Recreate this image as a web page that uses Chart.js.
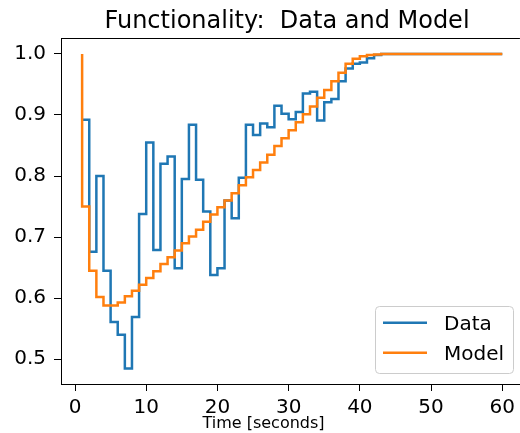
<!DOCTYPE html>
<html>
<head>
<meta charset="utf-8">
<script src="https://cdn.jsdelivr.net/npm/chart.js@4.4.1/dist/chart.umd.min.js"></script>
<style>
  html, body { margin: 0; padding: 0; background: #fff; }
  #wrap { width: 520px; height: 433px; }
</style>
</head>
<body>
<div id="wrap"><canvas id="funcChart" width="520" height="433"></canvas></div>
<script>
'use strict';

//データ
var time = [1, 2, 3, 4, 5, 6, 7, 8, 9, 10, 11, 12, 13, 14, 15, 16, 17, 18, 19, 20,
  21, 22, 23, 24, 25, 26, 27, 28, 29, 30, 31, 32, 33, 34, 35, 36, 37, 38, 39, 40,
  41, 42, 43, 44, 45, 46, 47, 48, 49, 50, 51, 52, 53, 54, 55, 56, 57, 58, 59, 60];
var dataValues = [0.892, 0.892, 0.676, 0.800, 0.645, 0.561, 0.540, 0.485, 0.569, 0.738,
  0.855, 0.679, 0.820, 0.832, 0.649, 0.795, 0.884, 0.794, 0.742, 0.638,
  0.649, 0.760, 0.731, 0.797, 0.884, 0.867, 0.886, 0.880, 0.915, 0.902,
  0.893, 0.905, 0.935, 0.938, 0.891, 0.921, 0.926, 0.955, 0.976, 0.984,
  0.986, 0.993, 0.998, 1.000, 1.000, 1.000, 1.000, 1.000, 1.000, 1.000,
  1.000, 1.000, 1.000, 1.000, 1.000, 1.000, 1.000, 1.000, 1.000, 1.000];
var modelValues = [1.000, 0.750, 0.645, 0.602, 0.588, 0.588, 0.593, 0.603, 0.612, 0.622,
  0.633, 0.644, 0.656, 0.667, 0.678, 0.690, 0.701, 0.712, 0.725, 0.737,
  0.749, 0.760, 0.772, 0.785, 0.798, 0.810, 0.822, 0.835, 0.849, 0.862,
  0.875, 0.888, 0.901, 0.914, 0.928, 0.941, 0.955, 0.969, 0.984, 0.992,
  0.996, 0.998, 0.999, 1.000, 1.000, 1.000, 1.000, 1.000, 1.000, 1.000,
  1.000, 1.000, 1.000, 1.000, 1.000, 1.000, 1.000, 1.000, 1.000, 1.000];
var xTicks = [0, 10, 20, 30, 40, 50, 60];
var yTicks = [0.5, 0.6, 0.7, 0.8, 0.9, 1.0];
var seriesLabels = ['Data', 'Model'];
var titleText = 'Functionality:  Data and Model';
var xLabelText = 'Time [seconds]';

var FONT = '"DejaVu Sans", sans-serif';

function toPoints(values) {
  return values.map(function(v, i) {
    return { x: time[i], y: v };
  });
}

//タイトル・軸ラベル・凡例・上の枠線
var decoPlugin = {
  id: 'deco',
  afterDraw: function(chart) {
    var ctx = chart.ctx;
    var area = chart.chartArea;
    ctx.save();
    ctx.strokeStyle = '#000';
    ctx.lineWidth = 1;
    ctx.beginPath();
    ctx.moveTo(area.left, Math.round(area.top) + 0.5);
    ctx.lineTo(area.right, Math.round(area.top) + 0.5);
    ctx.stroke();

    ctx.fillStyle = '#000';
    ctx.textAlign = 'center';
    ctx.textBaseline = 'alphabetic';
    ctx.font = '24px ' + FONT;
    ctx.fillText(titleText, 287, 28);
    ctx.font = '16px ' + FONT;
    ctx.fillText(xLabelText, 263.5, 428);

    //凡例
    ctx.beginPath();
    ctx.roundRect(375.5, 306.5, 138, 67, 4);
    ctx.fillStyle = 'rgba(255,255,255,0.8)';
    ctx.fill();
    ctx.strokeStyle = '#cccccc';
    ctx.stroke();
    var rows = [322.7, 352.7];
    chart.data.datasets.forEach(function(ds, i) {
      ctx.strokeStyle = ds.borderColor;
      ctx.lineWidth = 2.5;
      ctx.beginPath();
      ctx.moveTo(383, rows[i]);
      ctx.lineTo(427, rows[i]);
      ctx.stroke();
      ctx.fillStyle = '#000';
      ctx.textAlign = 'left';
      ctx.font = '20px ' + FONT;
      ctx.fillText(ds.label, 444, rows[i] + 7);
    });
    ctx.restore();
  }
};

var ctx = document.getElementById('funcChart');
var myChart = new Chart(ctx, {
  type: 'line',
  data: {
    datasets: [{
      label: seriesLabels[0],
      data: toPoints(dataValues),
      borderColor: '#1f77b4',
      borderWidth: 2.5,
      stepped: 'after',
      order: 2
    }, {
      label: seriesLabels[1],
      data: toPoints(modelValues),
      borderColor: '#ff7f0e',
      borderWidth: 2.5,
      stepped: 'after',
      order: 1
    }]
  },
  options: {
    responsive: false,
    devicePixelRatio: 1,
    animation: false,
    layout: { padding: { top: 38, right: 0, bottom: 0, left: 0 } },
    elements: { point: { radius: 0 } },
    plugins: {
      legend: { display: false },
      title: { display: false },
      tooltip: { enabled: false }
    },
    scales: {
      x: {
        type: 'linear',
        min: -1.966,
        max: 62.48,
        afterFit: function(scale) { scale.height = 49; },
        afterBuildTicks: function(scale) {
          scale.ticks = xTicks.map(function(v) { return { value: v }; });
        },
        grid: { drawOnChartArea: false, tickLength: 7, color: '#000' },
        border: { display: true, color: '#000', width: 1 },
        ticks: {
          autoSkip: false,
          maxRotation: 0,
          padding: 5,
          color: '#000',
          font: { family: FONT, size: 20 }
        }
      },
      y: {
        min: 0.4595,
        max: 1.026,
        afterFit: function(scale) { scale.width = 61; },
        afterBuildTicks: function(scale) {
          scale.ticks = yTicks.map(function(v) { return { value: v }; });
        },
        grid: { drawOnChartArea: false, tickLength: 7, color: '#000' },
        border: { display: true, color: '#000', width: 1 },
        ticks: {
          padding: 8,
          color: '#000',
          font: { family: FONT, size: 20 },
          callback: function(v) { return v.toFixed(1); }
        }
      }
    }
  },
  plugins: [decoPlugin]
});
</script>
</body>
</html>
